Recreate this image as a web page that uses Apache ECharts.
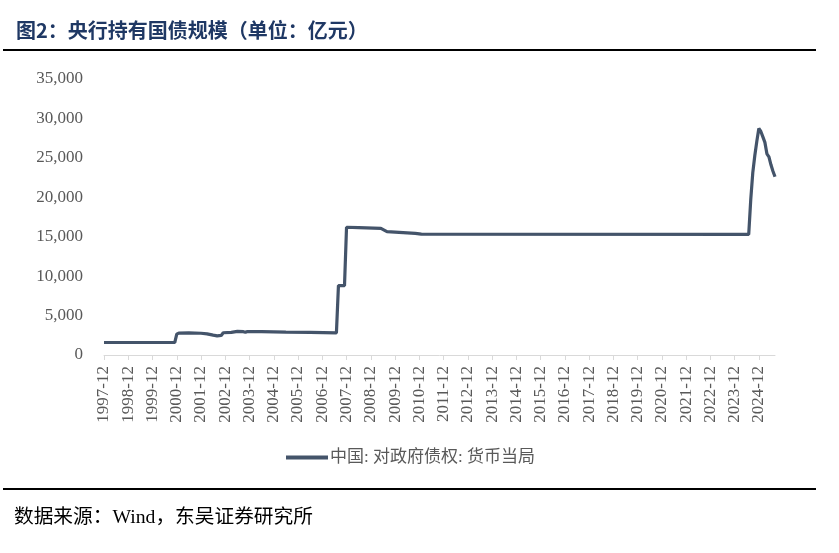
<!DOCTYPE html>
<html>
<head>
<meta charset="utf-8">
<script src="https://cdn.jsdelivr.net/npm/echarts@6/dist/echarts.min.js"></script>
<style>
html,body{margin:0;padding:0;background:#fff;}
#chart{width:839px;height:553px;}
</style>
</head>
<body>
<div id="chart"></div>
<script>
const pointDates = ['1997-12','2000-11','2000-12','2001-01','2001-06','2001-12','2002-03','2002-06','2002-08','2002-10','2002-11','2003-03','2003-06','2003-09','2003-10','2003-11','2004-06','2005-06','2006-06','2007-07','2007-08','2007-11','2007-12','2008-06','2009-05','2009-08','2010-10','2011-01','2024-07','2024-08','2024-09','2024-10','2024-11','2024-12','2025-01','2025-02','2025-03','2025-04','2025-05','2025-06','2025-07','2025-08'];
const pointValues = [1583,1583,2650,2780,2800,2760,2680,2520,2430,2480,2820,2870,3000,2960,2880,2980,2970,2900,2860,2800,8800,8800,16200,16150,16060,15650,15430,15320,15300,19700,23100,25260,27090,28730,28350,27660,26960,25510,25130,24120,23300,22600];
const yTicks = [0,5000,10000,15000,20000,25000,30000,35000];
const seriesName = '中国: 对政府债权: 货币当局';
const titleText = '图2：央行持有国债规模（单位：亿元）';
const sourceText = '数据来源：Wind，东吴证券研究所';

// monthly category axis from 1997-12 to 2025-08
const months = [];
for (let y = 1997; y <= 2025; y++) {
  for (let m = 1; m <= 12; m++) {
    const s = y + '-' + (m < 10 ? '0' + m : m);
    if (s >= '1997-12' && s <= '2025-08') months.push(s);
  }
}
const seriesData = pointDates.map((d, i) => [d, pointValues[i]]);

const chart = echarts.init(document.getElementById('chart'));
const serif = 'Liberation Serif, Noto Sans CJK SC, serif';
chart.setOption({
  animation: false,
  title: {
    text: titleText,
    left: 11, top: 15,
    textStyle: { fontSize: 20, fontWeight: 'bold', color: '#1f3864', fontFamily: 'Noto Sans CJK SC, sans-serif' }
  },
  graphic: [
    { type: 'rect', shape: { x: 3, y: 49, width: 813, height: 2 }, style: { fill: '#000' } },
    { type: 'rect', shape: { x: 3, y: 488, width: 813, height: 2 }, style: { fill: '#000' } },
    { type: 'text', left: 14, top: 508, style: { text: sourceText, fontSize: 19.7, fill: '#000', fontFamily: serif } }
  ],
  legend: {
    data: [{ name: seriesName, icon: 'rect' }],
    left: 281, top: 444,
    itemWidth: 42, itemHeight: 4, itemGap: 10,
    textStyle: { fontSize: 17, color: '#595959', fontFamily: serif, padding: [0, 0, 0, -3] }
  },
  grid: { left: 104, right: 64, top: 79, bottom: 198 },
  xAxis: {
    type: 'category',
    data: months,
    boundaryGap: false,
    axisLine: { lineStyle: { color: '#d9d9d9', width: 1 } },
    axisTick: { show: true, length: 5, lineStyle: { color: '#d9d9d9' }, interval: (i, v) => v.slice(5) === '12' },
    axisLabel: {
      interval: (i, v) => v.slice(5) === '12',
      rotate: 90, margin: 11,
      fontSize: 17, color: '#595959', fontFamily: serif
    },
    splitLine: { show: false }
  },
  yAxis: {
    type: 'value',
    min: yTicks[0], max: yTicks[yTicks.length - 1], interval: 5000,
    axisLine: { show: false }, axisTick: { show: false },
    splitLine: { show: false },
    axisLabel: {
      margin: 21, fontSize: 17, color: '#595959', fontFamily: serif,
      formatter: v => String(v).replace(/\B(?=(\d{3})+(?!\d))/g, ',')
    }
  },
  series: [{
    name: seriesName,
    type: 'line',
    data: seriesData,
    showSymbol: false,
    symbol: 'none',
    lineStyle: { color: '#44546a', width: 3.2 },
    itemStyle: { color: '#44546a' }
  }]
});
</script>
</body>
</html>
